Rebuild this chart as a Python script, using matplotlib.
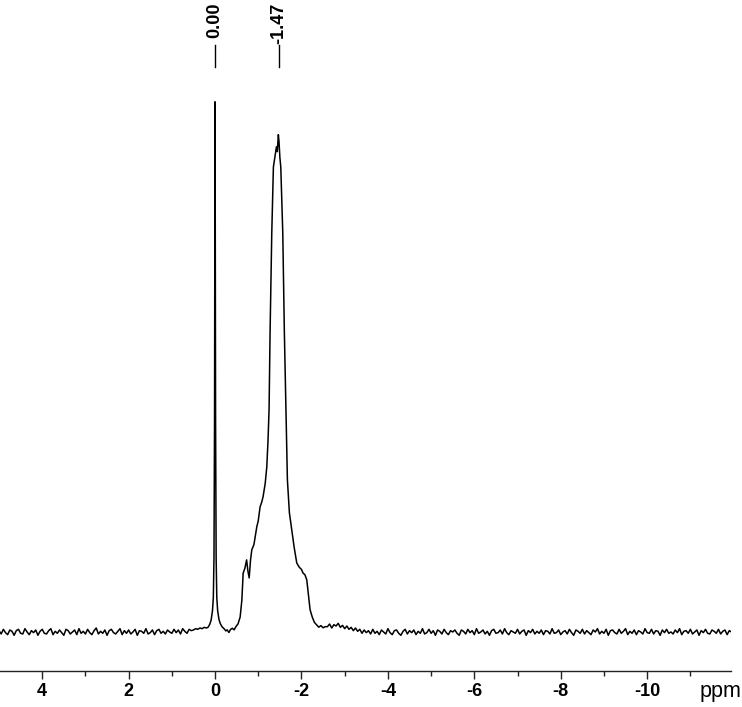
import numpy as np
import matplotlib
matplotlib.use('Agg')
import matplotlib.pyplot as plt

plt.rcParams['font.family'] = ['Liberation Sans', 'DejaVu Sans']
plt.rcParams['axes.unicode_minus'] = False

# baseline noise (eighths of intensity units), left side 5.00 -> 0.20 ppm
left_noise = [2, -3, 4, -1, -4, 3, 1, -5, 2, 4, -2, -3, 5, 0, -4, 2, -1, 3, -5, 1,
              4, -2, -3, 2, 5, -4, 1, -2, 3, -1, -5, 4, 2, -3, 0, 3, -4, 5, -2, 1,
              -3, 4, -1, -4, 2, 6, -3, 1, -2, 3, -5, 2, 4, -1, -3, 1, 5, -4, 2, -2,
              3, -3, 0, 4, -5, 2, 1, -2, 5, -3, -1, 3, -4, 2, 4, -2, 1, -3, 3, 0,
              -2, 4, -1, 3, -3, 5, 1, -2, 4, 2, 3, 5, 4, 6, 5, 7, 6]

# right side -2.60 -> -11.95 ppm
right_noise = [8, 12, 6, 11, 9, 13, 7, 10, 5, 9, 4, 7, 2, 6, 1, 4, -2, 3, -1, 2,
               -3, 4, -2, 1, -4, 3, 0, -3, 5, -1, -4, 2, 3, -2, -5, 1, 4, -3, 2, -1,
               3, -4, 1, -2, 5, -3, -1, 4, -2, 2, -5, 3, 1, -3, 4, -1, -4, 2, 0, 3,
               -2, -5, 3, 1, -3, 4, -1, 2, -4, 5, -2, 0, 3, -3, 1, -5, 2, 4, -2, -1,
               3, -3, 5, -1, -4, 2, 0, -2, 4, -3, 1, 3, -5, 2, -1, 4, -3, 1, -2, 3,
               -4, 2, 1, -3, 5, -2, -1, 3, -4, 0, 2, -3, 4, -1, -5, 3, 1, -2, 4, -3,
               2, -1, -4, 3, 0, 5, -3, 1, -2, 4, -5, 2, 3, -1, -3, 4, -2, 1, 5, -4,
               1, -2, 3, -4, 2, 0, -3, 5, -1, -2, 4, -3, 2, 1, -5, 3, -1, 4, -2, 0,
               -3, 3, -1, 5, -4, 1, 2, -2, 4, -3, 0, 3, -5, 2, -1, 4, -2, -3, 3, 1,
               -2, 4, -3, 1, 3, -4, 2, 0]

# peak region (ppm, intensity; 0.00 ppm peak = 100)
peak_ppm = [0.16, 0.12, 0.09, 0.06, 0.04, 0.025, 0.012, 0.0, -0.012, -0.025,
            -0.04, -0.06, -0.09, -0.12, -0.16, -0.21, -0.25, -0.28, -0.32, -0.36,
            -0.40, -0.44, -0.49, -0.53, -0.58, -0.62, -0.65, -0.69, -0.73, -0.76,
            -0.79, -0.82, -0.85, -0.90, -0.965, -1.00, -1.042, -1.08, -1.111, -1.16,
            -1.197, -1.225, -1.25, -1.273, -1.3125, -1.35, -1.39, -1.42, -1.44, -1.465,
            -1.48, -1.50, -1.521, -1.567, -1.604, -1.637, -1.674, -1.72, -1.775, -1.83,
            -1.891, -1.95, -2.00, -2.037, -2.08, -2.123, -2.16, -2.199, -2.25, -2.30,
            -2.354, -2.40, -2.45, -2.50, -2.55]
peak_int = [0.9, 1.5, 2.3, 4.0, 6.5, 14, 40, 100, 40, 14,
            6.5, 4.0, 2.4, 1.6, 1.0, 0.6, 0.2, 0.4, -0.1, 0.5,
            0.7, 0.4, 1.1, 1.5, 2.8, 6.0, 11.1, 12.0, 13.6, 11.5,
            10.2, 13.5, 15.5, 16.5, 19.8, 21.0, 23.6, 24.5, 25.5, 28.0,
            31.1, 36, 42, 56.4, 75.3, 87.7, 89.8, 91.5, 90.6, 93.8,
            92.5, 89.5, 87.7, 75.3, 56.4, 43.8, 28.7, 22.5, 19.2, 16.0,
            13.0, 12.2, 11.8, 11.1, 10.8, 9.8, 7.0, 4.2, 2.8, 1.8,
            1.3, 0.9, 1.2, 0.8, 1.0]

peak_labels = ['0.00', '-1.47']
label_pos = [0.0, -1.47]

tick_vals = [4, 2, 0, -2, -4, -6, -8, -10]
tick_text = ['4', '2', '0', '-2', '-4', '-6', '-8', '-10']

left_ppm = np.linspace(5.0, 0.20, len(left_noise))
right_ppm = np.linspace(-2.60, -11.95, len(right_noise))
ppm = np.concatenate([left_ppm, peak_ppm, right_ppm])
inten = np.concatenate([np.array(left_noise) / 8, peak_int, np.array(right_noise) / 8])

fig = plt.figure(figsize=(7.42, 7.07), dpi=100)
ax = fig.add_axes([0, 1 - 671 / 707, 731 / 742, 671 / 707])
ax.plot(ppm, inten, color='black', lw=1.1)
ax.set_xlim(4.977, -11.94)
ax.set_ylim(-7.36, 119.2)

for s in ['top', 'left', 'right']:
    ax.spines[s].set_visible(False)
ax.spines['bottom'].set_linewidth(1.0)
ax.spines['bottom'].set_color('#222222')
ax.set_yticks([])
ax.set_xticks(tick_vals)
ax.set_xticklabels(tick_text, fontsize=13, fontweight='bold')
ax.set_xticks([3, 1, -1, -3, -5, -7, -9, -11], minor=True)
ax.tick_params(axis='x', which='major', length=6, width=1, pad=3, color='#222222')
ax.tick_params(axis='x', which='minor', length=3.5, width=1, color='#222222')

for lab, pos in zip(peak_labels, label_pos):
    ax.plot([pos, pos], [106.6, 110.8], color='black', lw=1)
    ax.text(pos, 0.996, lab, transform=ax.get_xaxis_transform(), rotation=90,
            ha='center', va='top', fontsize=13, fontweight='bold')

fig.text(0.999, 1 - 697 / 707, 'ppm', ha='right', va='baseline', fontsize=15.5)

plt.savefig('out.png', dpi=100)
